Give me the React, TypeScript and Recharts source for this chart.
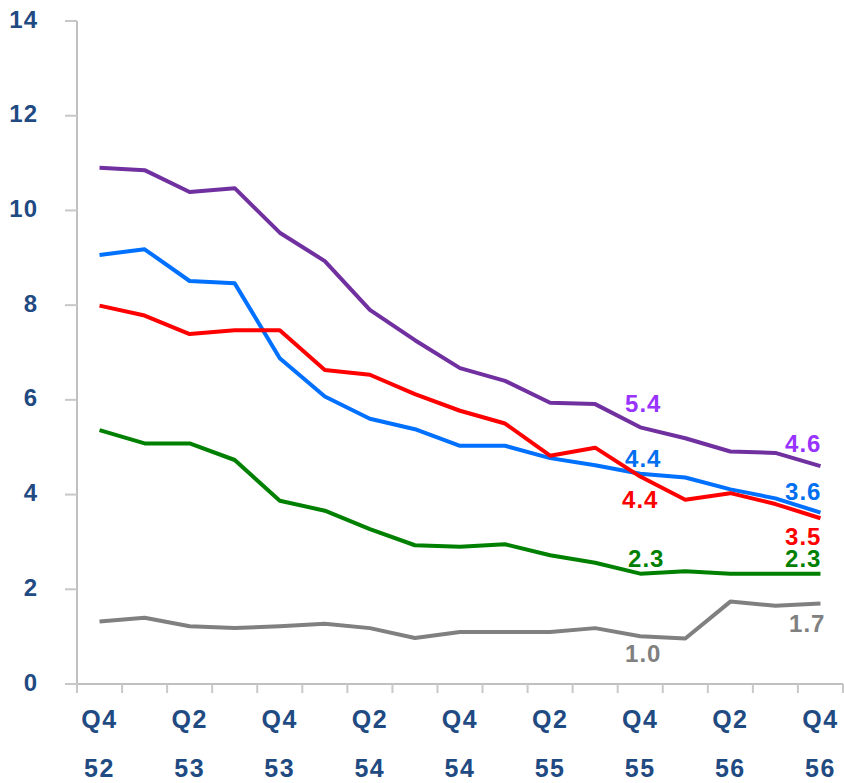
import { LineChart, Line, XAxis, YAxis, LabelList } from "recharts";

const quarters = ["Q4", "Q1", "Q2", "Q3", "Q4", "Q1", "Q2", "Q3", "Q4", "Q1", "Q2", "Q3", "Q4", "Q1", "Q2", "Q3", "Q4"];
const years = ["52", "53", "53", "53", "53", "54", "54", "54", "54", "55", "55", "55", "55", "56", "56", "56", "56"];

const purple = [10.9, 10.85, 10.39, 10.47, 9.53, 8.93, 7.9, 7.26, 6.67, 6.4, 5.94, 5.91, 5.42, 5.19, 4.91, 4.88, 4.6];
const blue = [9.06, 9.18, 8.51, 8.46, 6.88, 6.07, 5.6, 5.38, 5.03, 5.03, 4.77, 4.62, 4.44, 4.36, 4.11, 3.92, 3.62];
const red = [7.99, 7.78, 7.39, 7.47, 7.47, 6.63, 6.53, 6.12, 5.77, 5.5, 4.82, 4.99, 4.38, 3.89, 4.03, 3.8, 3.5];
const green = [5.36, 5.08, 5.08, 4.73, 3.87, 3.66, 3.27, 2.93, 2.9, 2.95, 2.72, 2.56, 2.33, 2.38, 2.33, 2.33, 2.33];
const gray = [1.32, 1.4, 1.22, 1.18, 1.22, 1.27, 1.18, 0.97, 1.1, 1.1, 1.1, 1.18, 1.01, 0.96, 1.74, 1.65, 1.7];

const yTicks = [0, 2, 4, 6, 8, 10, 12, 14];

const data = quarters.map((q, i) => ({
  i,
  purple: purple[i],
  blue: blue[i],
  red: red[i],
  green: green[i],
  gray: gray[i],
}));

const boundaryTicks = [-0.5, ...quarters.map((_, i) => i + 0.5)];
const labelTicks = quarters.map((_, i) => i).filter((i) => i % 2 === 0);

const axisBlue = "#1f4a82";
const font = "'Liberation Sans', Arial, sans-serif";

// where to put the end labels: index -> [dx, dy, anchor]
type Spec = Record<number, [number, number, "start" | "middle" | "end"]>;

const makeLabel = (color: string, spec: Spec) => (props: any) => {
  const { x, y, value, index } = props;
  const s = spec[index];
  if (!s) return null;
  return (
    <text
      x={x + s[0]}
      y={y + s[1]}
      textAnchor={s[2]}
      dominantBaseline="central"
      fill={color}
      fontSize={24}
      letterSpacing={1}
      fontWeight="bold"
      fontFamily={font}
    >
      {Number(value).toFixed(1)}
    </text>
  );
};

const QuarterTick = (props: any) => {
  const { x, y, payload } = props;
  const i = payload.value;
  const style = { fill: axisBlue, fontSize: 25, fontWeight: "bold" as const, fontFamily: font, letterSpacing: 1.5 };
  return (
    <g>
      <text x={x} y={y + 25} textAnchor="middle" dominantBaseline="central" {...style}>
        {quarters[i]}
      </text>
      <text x={x} y={y + 74} textAnchor="middle" dominantBaseline="central" {...style}>
        {years[i]}
      </text>
    </g>
  );
};

export default function App() {
  return (
    <div style={{ position: "absolute", left: 0, top: 0, width: 844, height: 783, background: "#fff" }}>
      <LineChart width={844} height={783} data={data} margin={{ top: 21, right: 1, bottom: 0, left: 0 }}>
        <XAxis
          xAxisId="a"
          dataKey="i"
          type="number"
          domain={[-0.5, 16.5]}
          ticks={boundaryTicks}
          interval={0}
          height={10}
          tickSize={9}
          tickLine={{ stroke: "#c8c8c8", strokeWidth: 2 }}
          axisLine={{ stroke: "#c0c0c0", strokeWidth: 2 }}
          tick={() => <g />}
        />
        <XAxis
          xAxisId="b"
          dataKey="i"
          type="number"
          domain={[-0.5, 16.5]}
          ticks={labelTicks}
          interval={0}
          height={89}
          tickSize={0}
          tickMargin={0}
          axisLine={false}
          tickLine={false}
          tick={<QuarterTick />}
        />
        <XAxis
          xAxisId="top"
          orientation="top"
          type="number"
          domain={[-0.5, 16.5]}
          height={0}
          tick={false}
          tickLine={false}
          axisLine={{ stroke: "#c0c0c0", strokeWidth: 2 }}
        />
        <YAxis
          domain={[0, 14]}
          ticks={yTicks}
          interval={0}
          width={77}
          tickSize={12}
          tickMargin={27}
          tickLine={{ stroke: "#c8c8c8", strokeWidth: 2 }}
          axisLine={{ stroke: "#c0c0c0", strokeWidth: 2 }}
          tick={{ fill: axisBlue, fontSize: 24, fontWeight: "bold", fontFamily: font, letterSpacing: 1, dy: -2 }}
        />
        <YAxis
          yAxisId="r"
          orientation="right"
          domain={[0, 14]}
          width={0}
          tick={false}
          tickLine={false}
          axisLine={{ stroke: "#d4d4d4", strokeWidth: 1.5 }}
        />
        <Line xAxisId="a" dataKey="purple" stroke="#7030a0" strokeWidth={4} dot={false} isAnimationActive={false} strokeLinejoin="round">
          <LabelList dataKey="purple" content={makeLabel("#9933ff", { 12: [3, -24, "middle"], 16: [1, -23, "end"] })} />
        </Line>
        <Line xAxisId="a" dataKey="blue" stroke="#0070ff" strokeWidth={4} dot={false} isAnimationActive={false} strokeLinejoin="round">
          <LabelList dataKey="blue" content={makeLabel("#0070f0", { 12: [3, -15, "middle"], 16: [1, -21, "end"] })} />
        </Line>
        <Line xAxisId="a" dataKey="red" stroke="#ff0000" strokeWidth={4} dot={false} isAnimationActive={false} strokeLinejoin="round">
          <LabelList dataKey="red" content={makeLabel("#ff0000", { 12: [0, 23, "middle"], 16: [1, 18, "end"] })} />
        </Line>
        <Line xAxisId="a" dataKey="green" stroke="#008000" strokeWidth={4} dot={false} isAnimationActive={false} strokeLinejoin="round">
          <LabelList dataKey="green" content={makeLabel("#008000", { 12: [6, -15, "middle"], 16: [1, -15, "end"] })} />
        </Line>
        <Line xAxisId="a" dataKey="gray" stroke="#808080" strokeWidth={4} dot={false} isAnimationActive={false} strokeLinejoin="round">
          <LabelList dataKey="gray" content={makeLabel("#808080", { 12: [3, 17, "middle"], 16: [5, 20, "end"] })} />
        </Line>
      </LineChart>
    </div>
  );
}
